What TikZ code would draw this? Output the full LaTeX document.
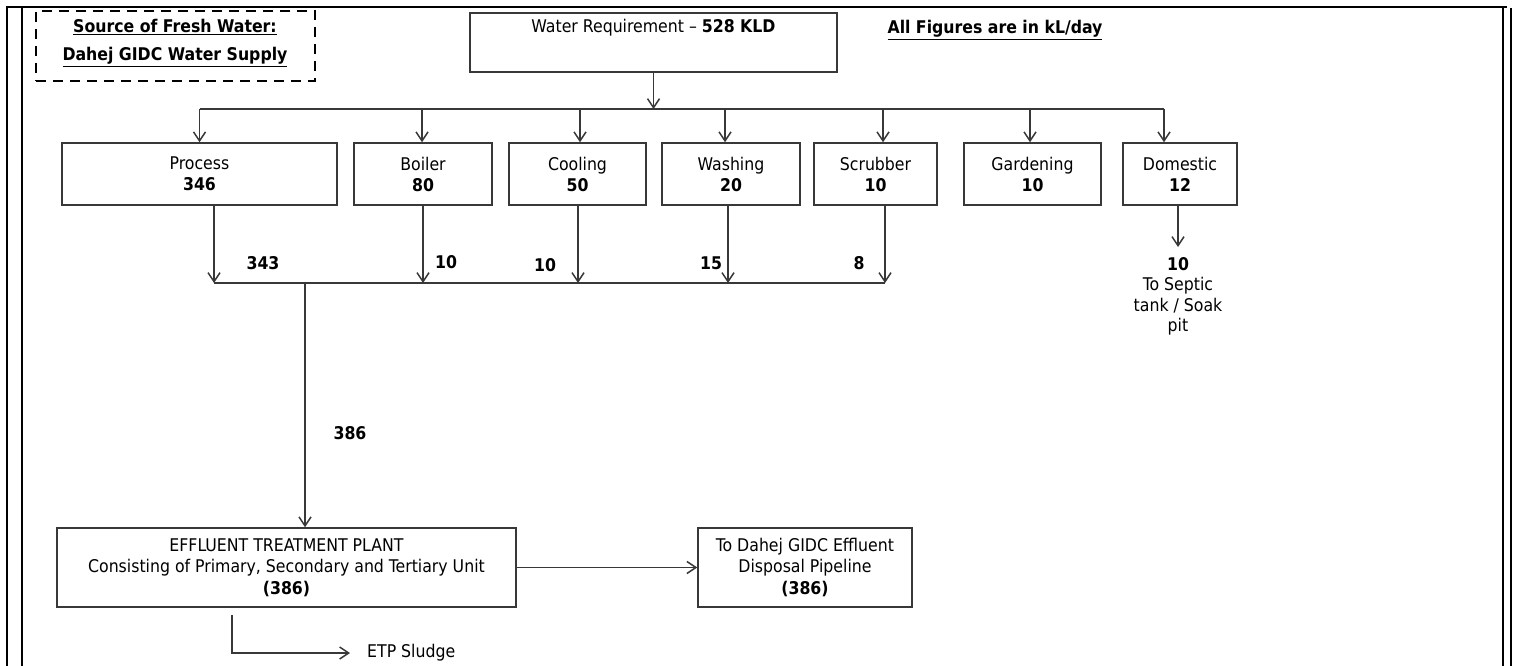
\documentclass[tikz,border=0pt]{standalone}
\usepackage{fontspec}
\setmainfont{DejaVu Sans Condensed}
\usetikzlibrary{arrows.meta,calc}
\definecolor{ink}{HTML}{383838}
\newcommand{\txt}{\fontsize{17.5}{21}\selectfont}
\begin{document}
\begin{tikzpicture}[x=1pt,y=-1pt,
  box/.style={draw=ink, line width=1.5pt, inner sep=0pt, align=center, font=\txt},
  lbl/.style={inner sep=0pt, align=center, font=\txt},
  num/.style={inner sep=0pt, font=\txt\bfseries},
  pipe/.style={draw=ink, line width=1.5pt},
  flow/.style={pipe, -{Straight Barb[length=9pt,width=12pt,line width=1.5pt]}},
  frameline/.style={draw=black, line width=2.8pt},
  headline/.style={lbl, font=\fontsize{17.5}{21}\selectfont\bfseries},
]
\useasboundingbox (0,0) rectangle (1515,666);

% page frame
\draw[frameline] (7,666) -- (7,7) -- (1507,7);
\draw[frameline] (22,7) -- (22,666);
\draw[frameline] (1503,7) -- (1503,666);
\draw[frameline] (1511,8) -- (1511,666);

% header
\node[draw=black, line width=2pt, dash pattern=on 10pt off 7pt,
      minimum width=279pt, minimum height=70pt] (src) at (175.5,46) {};
\node[headline] (srcA) at (175,27) {\underline{Source of Fresh Water:}};
\node[headline] (srcB) at (175,57) {\underline{Dahej GIDC Water Supply}};

\node[box, minimum width=367pt, minimum height=59pt] (wr) at (653.5,42.5) {};
\node[lbl] (wrtext) at (653.5,28) {Water Requirement -- \textbf{528 KLD}};
\node[headline] (units) at (995,30) {\underline{All Figures are in kL/day}};

% consumers
\node[box, minimum width=275pt, minimum height=62pt] (proc) at (199.5,174) {Process\\\textbf{346}};
\node[box, minimum width=138pt, minimum height=62pt] (boil) at (423,174) {Boiler\\\textbf{80}};
\node[box, minimum width=137pt, minimum height=62pt] (cool) at (577.5,174) {Cooling\\\textbf{50}};
\node[box, minimum width=138pt, minimum height=62pt] (wash) at (731,174) {Washing\\\textbf{20}};
\node[box, minimum width=123pt, minimum height=62pt] (scrub) at (875.5,174) {Scrubber\\\textbf{10}};
\node[box, minimum width=137pt, minimum height=62pt] (gard) at (1032.5,174) {Gardening\\\textbf{10}};
\node[box, minimum width=114pt, minimum height=62pt] (dom) at (1180,174) {Domestic\\\textbf{12}};

% distribution header
\coordinate (dist) at (653.5,109);
\draw[flow] (wr.south) -- (dist);
\coordinate (tProc) at (199.5,109);
\coordinate (tBoil) at (422,109);
\coordinate (tCool) at (580,109);
\coordinate (tWash) at (725,109);
\coordinate (tScrub) at (883,109);
\coordinate (tGard) at (1030,109);
\coordinate (tDom) at (1164,109);
\draw[pipe] (tProc) -- (tDom);
\foreach \t/\b in {tProc/proc,tBoil/boil,tCool/cool,tWash/wash,tScrub/scrub,tGard/gard,tDom/dom}
  \draw[flow] (\t) -- (\t |- \b.north);

% effluent collector
\coordinate (cProc) at (214,283);
\coordinate (cBoil) at (423,283);
\coordinate (cCool) at (578,283);
\coordinate (cWash) at (728,283);
\coordinate (cScrub) at (885,283);
\foreach \c/\b in {cProc/proc,cBoil/boil,cCool/cool,cWash/wash,cScrub/scrub}
  \draw[flow] (\c |- \b.south) -- (\c);
\draw[pipe] (cProc) -- (cScrub);

\node[num] (l343) at (263,263) {343};
\node[num] (l10a) at (446,262) {10};
\node[num] (l10b) at (545,265) {10};
\node[num] (l15) at (711,263) {15};
\node[num] (l8) at (859,263) {8};

% domestic outlet
\coordinate (septic) at (1178,247);
\draw[flow] (septic |- dom.south) -- (septic);
\node[lbl, font=\fontsize{17.5}{20.5}\selectfont, anchor=north] (septicTxt) at (1178,257)
  {\textbf{10}\\To Septic\\tank / Soak\\pit};

% treatment
\node[box, minimum width=459pt, minimum height=79pt, font=\fontsize{17.5}{21.5}\selectfont] (etp) at (286.5,567.5)
  {EFFLUENT TREATMENT PLANT\\Consisting of Primary, Secondary and Tertiary Unit\\\textbf{(386)}};
\node[box, minimum width=214pt, minimum height=79pt, font=\fontsize{17.5}{21.5}\selectfont] (disp) at (805,567.5)
  {To Dahej GIDC Effluent\\Disposal Pipeline\\\textbf{(386)}};

\coordinate (trunk) at (305,283);
\draw[flow] (trunk) -- (trunk |- etp.north);
\node[num] (l386) at (350,433) {386};
\draw[flow] (etp.east) -- (disp.west);

\coordinate (slCorner) at (232,653);
\coordinate (slEnd) at (350,653);
\draw[flow] ([yshift=-7pt]etp.south -| slCorner) -- (slCorner) -- (slEnd);
\node[lbl, anchor=west] (sludge) at ([xshift=17pt]slEnd) {ETP Sludge};
\end{tikzpicture}
\end{document}
